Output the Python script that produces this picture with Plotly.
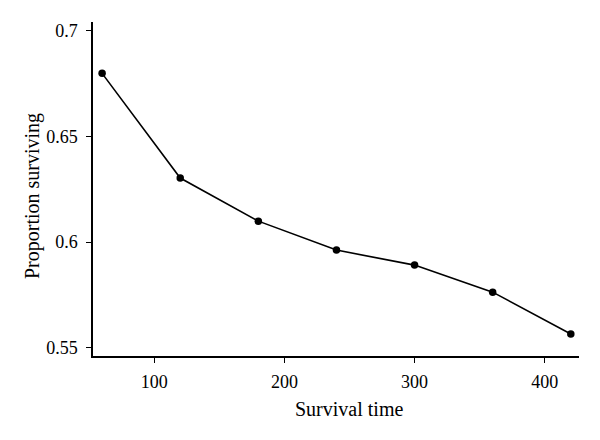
import plotly.graph_objects as go

survival_time = [60, 120, 180, 240, 300, 360, 420]
proportion_surviving = [0.6798, 0.6303, 0.6099, 0.5962, 0.5891, 0.5763, 0.5565]

x_ticks = [100, 200, 300, 400]
y_ticks = [0.55, 0.6, 0.65, 0.7]
y_tick_labels = ["0.55", "0.6", "0.65", "0.7"]

font_family = "Liberation Serif, DejaVu Serif, serif"
title_font = dict(family=font_family, size=20, color="black")

fig = go.Figure(
    go.Scatter(
        x=survival_time,
        y=proportion_surviving,
        mode="lines+markers",
        line=dict(color="black", width=1.6),
        marker=dict(color="black", size=7.5),
        showlegend=False,
    )
)

axis_style = dict(
    showline=True,
    linecolor="black",
    linewidth=1.5,
    showgrid=False,
    zeroline=False,
    automargin=False,
    ticks="outside",
    ticklen=5,
    tickwidth=1.2,
    tickcolor="black",
    tickfont=dict(family=font_family, size=18, color="black"),
)

fig.update_xaxes(range=[53, 426.3], tickvals=x_ticks, ticklabelstandoff=4, **axis_style)
fig.update_yaxes(range=[0.5461, 0.7041], tickvals=y_ticks, ticktext=y_tick_labels,
                 ticklabelstandoff=5, **axis_style)

# axis titles as annotations so they sit where the original puts them
fig.add_annotation(text="Survival time", font=title_font, showarrow=False,
                   xref="paper", yref="paper", x=0.5, y=0, xshift=13, yshift=-53,
                   xanchor="center", yanchor="middle")
fig.add_annotation(text="Proportion surviving", font=title_font, showarrow=False, textangle=-90,
                   xref="paper", yref="paper", x=0, y=0.5, xshift=-61, yshift=-7,
                   xanchor="center", yanchor="middle")

fig.update_layout(
    width=600,
    height=440,
    margin=dict(l=85, r=29, t=14, b=92),
    plot_bgcolor="white",
    paper_bgcolor="white",
)

fig.write_html("out.html")
